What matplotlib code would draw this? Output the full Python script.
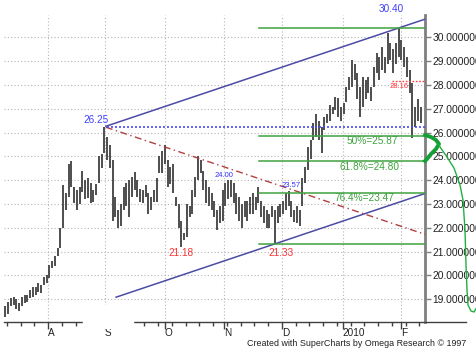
import numpy as np
import matplotlib
matplotlib.use('Agg')
import matplotlib.pyplot as plt
from matplotlib.lines import Line2D
from matplotlib.patches import Rectangle

# daily bars, Jul 2009 - Feb 2010
highs = [18.7, 18.9, 19.05, 19.1, 19.0, 18.85, 19.1, 19.2, 19.2, 19.4,
         19.5, 19.5, 19.7, 19.6, 19.95, 20.0, 20.45, 20.6, 20.8, 21.15,
         22.0, 23.8, 23.45, 24.7, 24.8, 23.7, 23.6, 23.7, 24.4, 24.0,
         24.1, 23.9, 23.6, 23.85, 25.0, 25.1, 26.25, 25.8, 25.5, 24.85,
         23.3, 22.75, 23.0, 23.7, 23.9, 24.0, 24.15, 24.35, 24.0, 23.65,
         23.6, 23.8, 23.45, 23.3, 23.6, 24.1, 25.0, 25.25, 25.5, 24.85,
         24.55, 24.7, 23.3, 23.0, 22.3, 21.8, 23.0, 22.9, 23.6, 24.15,
         25.0, 24.85, 24.4, 24.0, 23.7, 23.45, 23.15, 22.75, 22.9, 23.6,
         23.9, 24.0, 24.0, 23.9, 23.45, 23.3, 23.0, 23.15, 23.15, 23.3,
         23.45, 23.3, 23.7, 23.15, 22.9, 22.75, 22.6, 22.9, 22.75, 22.9,
         23.0, 23.15, 23.45, 23.57, 23.15, 22.75, 22.9, 22.75, 24.1, 24.55,
         25.4, 25.7, 26.4, 26.8, 26.5, 26.25, 26.65, 26.8, 27.15, 27.1,
         27.5, 27.45, 27.1, 27.25, 27.9, 28.35, 29.05, 28.9, 28.5, 27.9,
         28.35, 28.2, 28.35, 27.9, 28.75, 29.35, 29.2, 29.6, 29.2, 30.2,
         29.75, 29.5, 29.75, 30.4, 29.9, 29.6, 29.2, 28.65, 28.1, 27.1,
         27.4, 27.1]
lows = [18.25, 18.4, 18.7, 18.75, 18.6, 18.5, 18.7, 18.85, 18.9, 19.05,
        19.1, 19.2, 19.3, 19.25, 19.6, 19.7, 19.9, 20.3, 20.4, 20.8,
        21.15, 22.0, 22.75, 23.3, 23.7, 23.05, 22.75, 23.0, 23.5, 23.2,
        23.25, 23.05, 23.1, 23.4, 23.9, 24.5, 25.15, 24.85, 24.5, 22.3,
        22.45, 22.0, 22.1, 22.75, 22.9, 22.45, 23.3, 23.6, 23.3, 23.1,
        23.05, 23.3, 22.6, 22.75, 23.1, 23.1, 24.3, 24.3, 24.7, 23.7,
        23.85, 23.45, 22.9, 22.0, 21.18, 21.5, 21.6, 22.45, 22.6, 23.3,
        24.0, 24.3, 23.6, 23.05, 22.9, 22.75, 22.45, 21.9, 22.2, 22.3,
        22.9, 23.2, 23.3, 23.05, 22.6, 22.3, 22.0, 22.45, 22.3, 22.6,
        22.6, 22.75, 23.05, 22.45, 22.2, 22.0, 22.0, 22.45, 21.33, 22.2,
        22.45, 22.6, 22.75, 22.9, 22.45, 22.25, 22.2, 22.1, 22.9, 23.9,
        24.45, 24.9, 25.7, 25.8, 25.7, 25.15, 26.1, 26.4, 26.5, 26.8,
        26.95, 26.65, 26.5, 26.8, 27.3, 27.8, 27.9, 28.2, 27.4, 26.65,
        27.1, 27.4, 27.65, 27.35, 27.9, 28.5, 28.2, 28.65, 28.5, 28.9,
        29.05, 28.5, 28.9, 29.2, 29.05, 28.75, 28.35, 27.65, 25.78, 26.25,
        26.5, 26.4]

month_labels = ['A', 'S', 'O', 'N', 'D', '2010', 'F']
month_pos = [15.5, 36.2, 58, 79.5, 100.5, 122.7, 143.8]
price_ticks = list(range(19, 31))

swing_high1 = 26.25   # Sep peak
swing_high2 = 30.40   # Feb peak
swing_low = 21.33     # Dec low
fib_levels = [25.87, 24.80, 23.47]
fib_labels = ['50%=25.87', '61.8%=24.80', '76.4%=23.47']
support = 28.16

idx = np.arange(len(highs))
i_h1 = int(np.argmax(highs[:60]))
i_h2 = int(np.argmax(highs))
i_l = 98

W, H = 477, 357
plt.rcParams['font.family'] = ['Liberation Sans', 'DejaVu Sans']
fig = plt.figure(figsize=(W / 100, H / 100), dpi=100)
ax = fig.add_axes([4 / W, 35 / H, 421 / W, 307 / H])
ax.set_xlim(-0.545, 152.55)
ax.set_ylim(18.046, 30.945)

# grid
grid_kw = dict(color='#b4b4b4', lw=0.8, ls=(0, (1, 2)), zorder=0)
for v in price_ticks:
    ax.axhline(v, **grid_kw)
for m in month_pos:
    ax.axvline(m, **grid_kw)

# price bars
ax.vlines(idx, lows, highs, color='#4e4e4e', lw=1.4, zorder=3)

# trend channel
slope = (swing_high2 - swing_high1) / (i_h2 - i_h1)
xe = 152.6
ax.plot([i_h1 + 0.5, xe], [swing_high1 + slope * 0.5, swing_high1 + slope * (xe - i_h1)],
        color='#4b4ba6', lw=1.1, zorder=4)
x0 = 40.2
ax.plot([x0, xe], [swing_low + slope * (x0 - i_l), swing_low + slope * (xe - i_l)],
        color='#4b4ba6', lw=1.1, zorder=4)
ax.plot([i_h1 + 0.5, xe], [swing_high1 - slope * 0.5, swing_high1 - slope * (xe - i_h1)],
        color='#b04040', lw=1.0, ls=(0, (5, 2.5, 1, 2.5)), zorder=4)

# horizontal levels
ax.plot([i_h1 + 1, xe], [swing_high1, swing_high1], color='#4848ff', lw=1.2,
        ls=(0, (1.2, 1.2)), zorder=4)
ax.plot([140.5, xe], [support, support], color='#ff4040', lw=1.0,
        ls=(0, (1.2, 1.2)), zorder=4)
green = '#3ea23e'
for lvl in [swing_high2, swing_low] + fib_levels:
    ax.plot([92.2, xe], [lvl, lvl], color=green, lw=1.1, zorder=4)

# labels
def note(txt, x, y, dx, dy, color, size):
    ax.annotate(txt, (x, y), xytext=(dx, -dy), textcoords='offset pixels',
                ha='center', va='center', color=color, fontsize=size, zorder=6)

note('26.25', i_h1, swing_high1, -8, -7, '#4040ff', 7.2)
note('30.40', i_h2, swing_high2, -7, -19, '#4040ff', 7.2)
note('28.16', 143.2, support, 0, 5, '#ff3030', 5.5)
note('24.00', 79.5, 24.0, 0, -5, '#3030ff', 5.5)
note('23.57', 103.8, 23.57, 0, -5, '#3030ff', 5.5)
note('21.18', 64, 21.18, 0, 6, '#ff3030', 7.2)
note('21.33', 100.2, swing_low, 0, 9, '#ff3030', 7.2)
for lvl, lab, xl in zip(fib_levels, fib_labels, [133.3, 132.2, 130.7]):
    note(lab, xl, lvl, 0, 5.5, green, 7.3)

# axes cosmetics
for s in ['top', 'left', 'bottom']:
    ax.spines[s].set_visible(False)
ax.spines['right'].set_color('#808080')
ax.spines['right'].set_linewidth(2)
ax.yaxis.tick_right()
ax.set_yticks(price_ticks)
ax.set_yticklabels(['%.6f' % v for v in price_ticks])
ax.tick_params(axis='y', direction='out', length=4, width=1, color='#808080',
               pad=1.5, labelsize=7.4, labelcolor='#202020')
ax.set_xticks(month_pos)
ax.set_xticklabels(month_labels, ha='left')
ax.set_xticks(np.arange(0.5, 152, 5), minor=True)
ax.tick_params(axis='x', which='major', length=5, width=1, color='#404040',
               pad=-0.5, labelsize=7.2, labelcolor='#202020')
ax.tick_params(axis='x', which='minor', length=3, width=1, color='#404040')

# bottom axis line and erased patch
fig.add_artist(Line2D([4 / W, 466 / W], [1 - 322 / H] * 2, transform=fig.transFigure,
                      color='#404040', lw=1))
fig.add_artist(Rectangle((83.5 / W, 1 - 327.5 / H), 50 / W, 22.5 / H,
                         transform=fig.transFigure, color='white', zorder=5))

# hand drawn green mark on the right
bx = [425, 431, 436, 439, 436, 431, 427, 425]
by = [135, 137, 140, 144, 149, 154, 159, 161]
fig.add_artist(Line2D([v / W for v in bx], [1 - v / H for v in by],
                      transform=fig.transFigure, color='#14a034', lw=2.8,
                      solid_joinstyle='round'))
cx = [438, 447, 454, 460, 463, 465, 466, 467, 468, 471, 474, 477]
cy = [144, 157, 168, 185, 200, 230, 265, 290, 305, 311, 312, 307]
fig.add_artist(Line2D([v / W for v in cx], [1 - v / H for v in cy],
                      transform=fig.transFigure, color='#20b040', lw=1))

fig.text(466 / W, 1 - 343.5 / H, 'Created with SuperCharts by Omega Research \u00a9 1997',
         ha='right', va='center', fontsize=6.4, color='#202020')

fig.savefig('out.png', dpi=100)
